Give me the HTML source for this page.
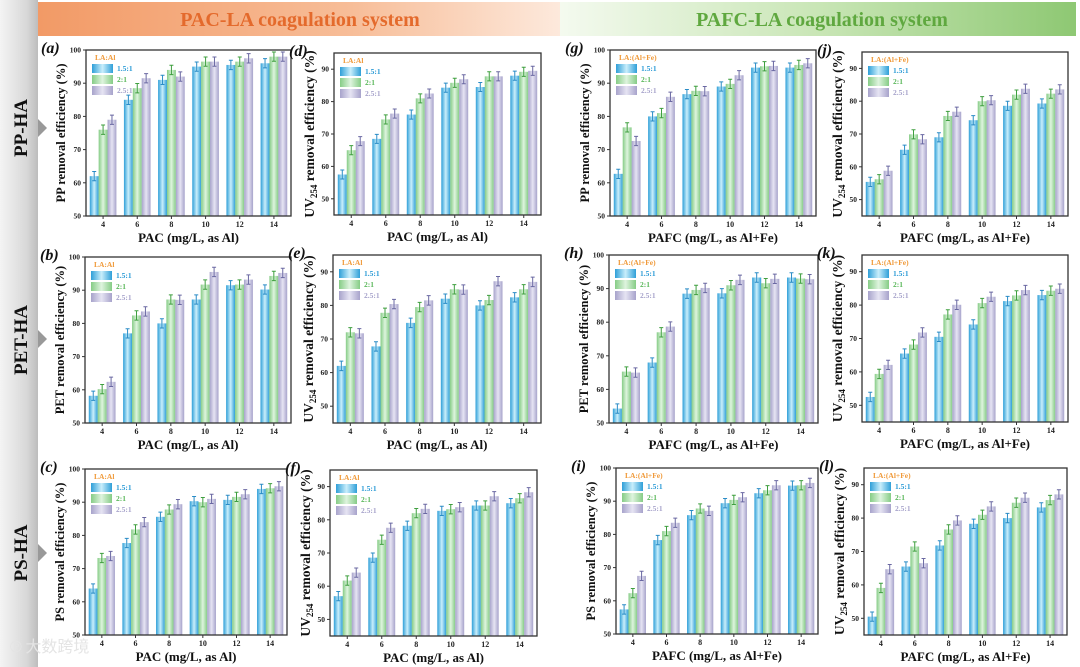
<!DOCTYPE html>
<html><head><meta charset="utf-8">
<style>
html,body{margin:0;padding:0;background:#fff;}
svg{display:block;font-family:"Liberation Serif",serif;}
</style></head>
<body>
<svg id="fig" width="1080" height="667" viewBox="0 0 1080 667" xmlns="http://www.w3.org/2000/svg">
<defs>
<linearGradient id="gBlue" x1="0" x2="1" y1="0" y2="0"><stop offset="0" stop-color="#2f9fd8"/><stop offset="0.5" stop-color="#c9eefb"/><stop offset="1" stop-color="#2f9fd8"/></linearGradient>
<linearGradient id="gGreen" x1="0" x2="1" y1="0" y2="0"><stop offset="0" stop-color="#86cc86"/><stop offset="0.5" stop-color="#def4de"/><stop offset="1" stop-color="#86cc86"/></linearGradient>
<linearGradient id="gPurple" x1="0" x2="1" y1="0" y2="0"><stop offset="0" stop-color="#a7a3cb"/><stop offset="0.5" stop-color="#e6e4f3"/><stop offset="1" stop-color="#a7a3cb"/></linearGradient>
<linearGradient id="gOrange" x1="0" x2="1" y1="0" y2="0"><stop offset="0" stop-color="#f29a66"/><stop offset="0.6" stop-color="#f7bd98"/><stop offset="1" stop-color="#fde9dc"/></linearGradient>
<linearGradient id="gGreenBand" x1="0" x2="1" y1="0" y2="0"><stop offset="0" stop-color="#f4faef"/><stop offset="0.5" stop-color="#c9e6b6"/><stop offset="1" stop-color="#8ec873"/></linearGradient>
<linearGradient id="gSide" x1="0" x2="1" y1="0" y2="0"><stop offset="0" stop-color="#f4f4f4"/><stop offset="0.7" stop-color="#d8d8d8"/><stop offset="1" stop-color="#bdbdbd"/></linearGradient>
</defs>
<rect x="0" y="0" width="38" height="667" fill="url(#gSide)"/>
<rect x="38" y="2" width="522" height="34" fill="url(#gOrange)"/>
<rect x="560" y="2" width="516" height="34" fill="url(#gGreenBand)"/>
<text x="300" y="26" text-anchor="middle" font-size="20" font-weight="bold" fill="#e46a2c">PAC-LA coagulation system</text>
<text x="822" y="26" text-anchor="middle" font-size="20" font-weight="bold" fill="#5fa83f">PAFC-LA coagulation system</text>
<text transform="translate(27,128) rotate(-90)" text-anchor="middle" font-size="19" font-weight="bold" fill="#111">PP-HA</text>
<text transform="translate(27,340) rotate(-90)" text-anchor="middle" font-size="19" font-weight="bold" fill="#111">PET-HA</text>
<text transform="translate(27,553) rotate(-90)" text-anchor="middle" font-size="19" font-weight="bold" fill="#111">PS-HA</text>
<polygon points="38,119 47,128 38,137" fill="#999"/>
<polygon points="38,330 47,339 38,348" fill="#999"/>
<polygon points="38,544 47,553 38,562" fill="#999"/>
<g id="panels"></g>
<text x="10" y="652" font-size="16" fill="#e4e4e4" font-family="Noto Sans CJK SC, sans-serif">℗ 大数跨境</text>
</svg>
<script>
const categories = [4, 6, 8, 10, 12, 14];
const seriesLabels = ['1.5:1', '2:1', '2.5:1'];
const ticksFull = [50, 60, 70, 80, 90, 100];
const ticksUV = [50, 60, 70, 80, 90];
const errSize = 1.4;

const aR15 = [62, 85, 91, 95, 95.5, 96];
const aR2 = [76, 88.5, 94, 96.5, 96.5, 98];
const aR25 = [79, 91.5, 92, 96.5, 97.5, 98];
const dR15 = [57.5, 68.5, 76, 84.3, 84.5, 88];
const dR2 = [65, 74.5, 81, 85.8, 87.8, 89.2];
const dR25 = [67.8, 76.3, 82.5, 86.9, 87.8, 89.5];
const gR15 = [62.7, 80, 86.7, 89, 94.7, 94.7];
const gR2 = [76.7, 81, 87.7, 89.8, 95.1, 95.5];
const gR25 = [72.6, 85.9, 87.6, 92.4, 95.2, 96];
const jR15 = [55.4, 65.2, 69, 74.2, 78.6, 79.3];
const jR2 = [56.2, 69.9, 75.5, 80, 82, 82.3];
const jR25 = [58.8, 68.4, 76.8, 80.3, 83.8, 83.6];
const bR15 = [58.2, 77, 80, 87.2, 91.5, 90.2];
const bR2 = [60.2, 82.4, 87.2, 91.7, 91.7, 94.3];
const bR25 = [62.4, 83.6, 87.1, 95.5, 93.2, 95.2];
const eR15 = [62, 67.8, 74.8, 82, 80, 82.4];
const eR2 = [72, 77.8, 79.5, 84.8, 81.6, 84.8];
const eR25 = [71.7, 80.4, 81.5, 84.7, 87.2, 87];
const hR15 = [54.3, 68, 88.5, 88.6, 93.3, 93.3];
const hR2 = [65.3, 77, 89.6, 91, 91.6, 93];
const hR25 = [65, 78.7, 90.2, 92.6, 92.9, 92.8];
const kR15 = [52.5, 65.5, 70.5, 74.2, 81.2, 83];
const kR2 = [59.4, 68.2, 77.2, 80.6, 82.9, 84.3];
const kR25 = [62.1, 71.8, 80.1, 82.5, 84.5, 84.9];
const cR15 = [64, 77.7, 85.6, 90.3, 90.7, 94];
const cR2 = [73.2, 81.8, 87.8, 90, 91.6, 94.2];
const cR25 = [73.8, 84, 89.4, 91, 92.4, 94.8];
const fR15 = [57, 68.6, 78.2, 82.7, 84.3, 85];
const fR2 = [61.7, 74, 82, 83.2, 84.3, 86.5];
const fR25 = [64.1, 77.6, 83.3, 83.8, 87.1, 88.3];
const iR15 = [57.4, 78.3, 85.8, 89.4, 92.4, 94.7];
const iR2 = [62.3, 81, 87.8, 90.4, 93.3, 94.8];
const iR25 = [67.5, 83.5, 87.1, 91.2, 94.8, 95.5];
const lR15 = [50.5, 65.5, 71.8, 78.3, 80, 83.2];
const lR2 = [59.1, 71.5, 76.6, 81, 84.6, 85.4];
const lR25 = [64.7, 66.5, 79.3, 83.5, 86.1, 87.1];

const fills = ['url(#gBlue)', 'url(#gGreen)', 'url(#gPurple)'];
const errColors = ['#2a8cc6', '#3f9f3f', '#6a68a2'];
const legColors = ['#2a9ad6', '#5cb85c', '#a7a3cb'];

const panels = [
 {id:'a', box:[86,50,291,216], ymin:50, ymax:100, ticks:ticksFull, s:[aR15,aR2,aR25], yl:'PP', uv:false, xl:'PAC (mg/L, as Al)', lg:'LA:Al'},
 {id:'d', box:[334,53,541,215], ymin:45, ymax:95, ticks:ticksUV, s:[dR15,dR2,dR25], yl:'', uv:true, xl:'PAC (mg/L, as Al)', lg:'LA:Al'},
 {id:'g', box:[610,50,816,216], ymin:50, ymax:100, ticks:ticksFull, s:[gR15,gR2,gR25], yl:'PP', uv:false, xl:'PAFC (mg/L, as Al+Fe)', lg:'LA:(Al+Fe)'},
 {id:'j', box:[862,52,1068,216], ymin:45, ymax:95, ticks:ticksUV, s:[jR15,jR2,jR25], yl:'', uv:true, xl:'PAFC (mg/L, as Al+Fe)', lg:'LA:(Al+Fe)'},
 {id:'b', box:[85,257,291,423], ymin:50, ymax:100, ticks:ticksFull, s:[bR15,bR2,bR25], yl:'PET', uv:false, xl:'PAC (mg/L, as Al)', lg:'LA:Al'},
 {id:'e', box:[333,255,541,423], ymin:45, ymax:95, ticks:ticksUV, s:[eR15,eR2,eR25], yl:'', uv:true, xl:'PAC (mg/L, as Al)', lg:'LA:Al'},
 {id:'h', box:[609,255,818,423], ymin:50, ymax:100, ticks:ticksFull, s:[hR15,hR2,hR25], yl:'PET', uv:false, xl:'PAFC (mg/L, as Al+Fe)', lg:'LA:(Al+Fe)'},
 {id:'k', box:[862,255,1068,422], ymin:45, ymax:95, ticks:ticksUV, s:[kR15,kR2,kR25], yl:'', uv:true, xl:'PAFC (mg/L, as Al+Fe)', lg:'LA:(Al+Fe)'},
 {id:'c', box:[85,469,287,635], ymin:50, ymax:100, ticks:ticksFull, s:[cR15,cR2,cR25], yl:'PS', uv:false, xl:'PAC (mg/L, as Al)', lg:'LA:Al'},
 {id:'f', box:[330,470,537,636], ymin:45, ymax:95, ticks:ticksUV, s:[fR15,fR2,fR25], yl:'', uv:true, xl:'PAC (mg/L, as Al)', lg:'LA:Al'},
 {id:'i', box:[616,468,818,634], ymin:50, ymax:100, ticks:ticksFull, s:[iR15,iR2,iR25], yl:'PS', uv:false, xl:'PAFC (mg/L, as Al+Fe)', lg:'LA:(Al+Fe)'},
 {id:'l', box:[864,468,1067,635], ymin:45, ymax:95, ticks:ticksUV, s:[lR15,lR2,lR25], yl:'', uv:true, xl:'PAFC (mg/L, as Al+Fe)', lg:'LA:(Al+Fe)'}
];

const NS = 'http://www.w3.org/2000/svg';
const root = document.getElementById('panels');
function mk(tag, attrs, parent){
  const e = document.createElementNS(NS, tag);
  for (const k in attrs) e.setAttribute(k, attrs[k]);
  parent.appendChild(e);
  return e;
}

panels.forEach(p => {
  const [x0,y0,x1,y1] = p.box;
  const g = mk('g', {}, root);
  
  
  const xScale = v => x0 + (v - 3) / 12 * (x1 - x0);
  const yScale = v => y1 - (v - p.ymin) / (p.ymax - p.ymin) * (y1 - y0);
  const step = xScale(6) - xScale(4);
  const bw = step * 0.26;

  p.s.forEach((vals, si) => {
    vals.forEach((v, ci) => {
      const cx = xScale(categories[ci]) + (si - 1) * bw;
      const yt = yScale(v);
      const r = mk('rect', {x:cx - bw/2, y:yt, width:bw, height:y1 - yt, fill:fills[si]}, g);
      
      
      const eb = mk('path', {d:`M${cx},${yScale(v+errSize)}V${yScale(v-errSize)}M${cx-2},${yScale(v+errSize)}H${cx+2}M${cx-2},${yScale(v-errSize)}H${cx+2}`, stroke:errColors[si], 'stroke-width':1, fill:'none'}, g);
      
      
    });
  });

  const fr = mk('rect', {x:x0, y:y0, width:x1-x0, height:y1-y0, fill:'none', stroke:'#333', 'stroke-width':1.3}, g);
  
  

  p.ticks.forEach(t => {
    const yy = yScale(t);
    mk('line', {x1:x0-3, x2:x0, y1:yy, y2:yy, stroke:'#333', 'stroke-width':1}, g);
    const tl = mk('text', {x:x0-5, y:yy+2.5, 'text-anchor':'end', 'font-size':7.5, 'font-weight':'bold', fill:'#222'}, g);
    tl.textContent = t;
    
    
  });
  categories.forEach(c => {
    const xx = xScale(c);
    mk('line', {x1:xx, x2:xx, y1:y1, y2:y1+3, stroke:'#333', 'stroke-width':1}, g);
    const tl = mk('text', {x:xx, y:y1+11, 'text-anchor':'middle', 'font-size':8, 'font-weight':'bold', fill:'#222'}, g);
    tl.textContent = c;
    
    
  });

  const xt = mk('text', {x:(x0+x1)/2, y:y1+26, 'text-anchor':'middle', 'font-size':13, 'font-weight':'bold', fill:'#111'}, g);
  xt.textContent = p.xl;
  
  

  const ym = (y0+y1)/2;
  const yt = mk('text', {transform:`translate(${x0-21},${ym}) rotate(-90)`, 'text-anchor':'middle', 'font-size':12.5, 'font-weight':'bold', fill:'#111'}, g);
  
  
  if (p.uv) {
    yt.setAttribute('font-size', 13.5);
    yt.setAttribute('transform', `translate(${x0-20},${ym}) rotate(-90)`);
    const t1 = mk('tspan', {}, yt); t1.textContent = 'UV';
    const t2 = mk('tspan', {'font-size':9, dy:3}, yt); t2.textContent = '254';
    const t3 = mk('tspan', {dy:-3}, yt); t3.textContent = ' removal efficiency (%)';
  } else {
    yt.textContent = p.yl + ' removal efficiency (%)';
  }

  const pl = mk('text', {x:x0-45, y:y0+3, 'font-size':16, 'font-weight':'bold', 'font-style':'italic', fill:'#111'}, g);
  pl.textContent = '(' + p.id + ')';
  
  

  const lx = x0 + 6, ly = y0 + 10;
  const lt = mk('text', {x:lx+3, y:ly, 'font-size':7.5, 'font-weight':'bold', fill:'#f09a3a'}, g);
  lt.textContent = p.lg;
  
  
  seriesLabels.forEach((s, si) => {
    const by = ly + 4 + si * 11;
    const lr = mk('rect', {x:lx, y:by, width:21, height:9, fill:fills[si]}, g);
    
    
    const ltx = mk('text', {x:lx+25, y:by+7, 'font-size':7.5, 'font-weight':'bold', fill:legColors[si]}, g);
    ltx.textContent = s;
    
    
  });
});
</script>
</body></html>
